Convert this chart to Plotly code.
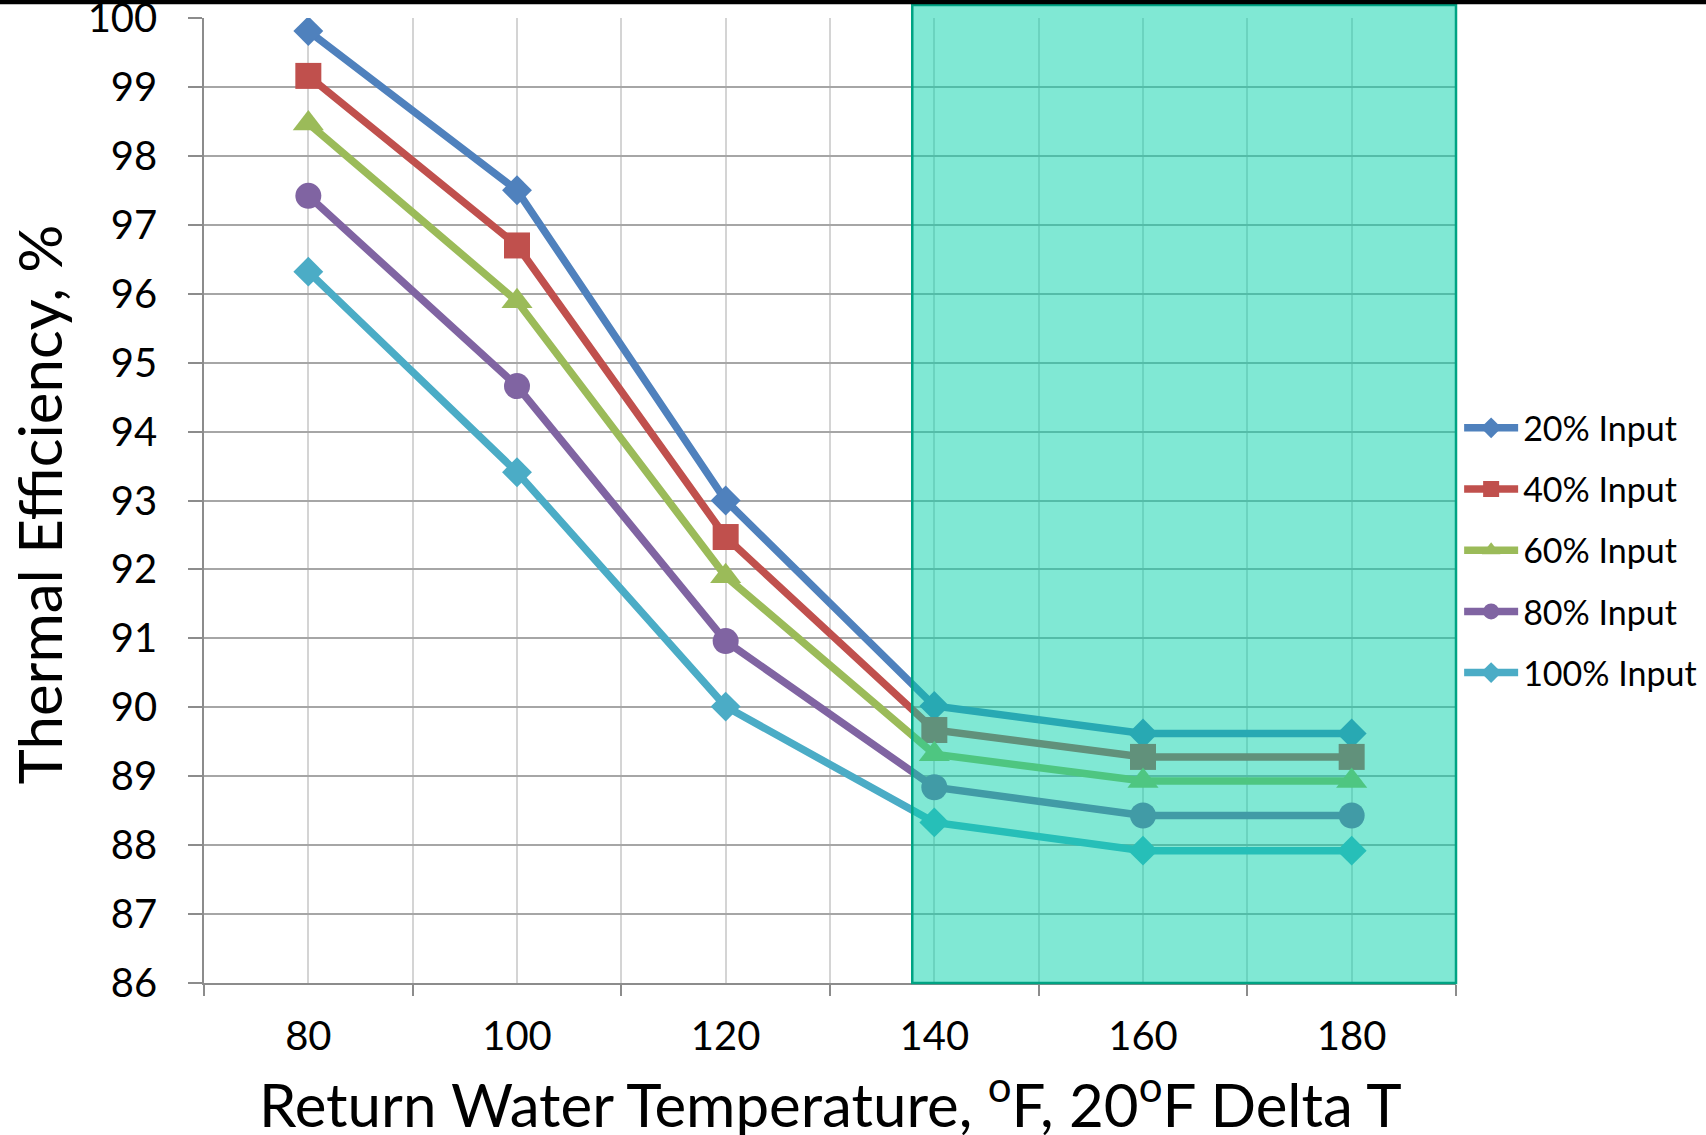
import plotly.graph_objects as go

temps = [80, 100, 120, 140, 160, 180]
boundaries = [70, 90, 110, 130, 150, 170, 190]
series_names = ["20% Input", "40% Input", "60% Input", "80% Input", "100% Input"]
eff_20 = [99.81, 97.50, 93.00, 90.02, 89.62, 89.62]
eff_40 = [99.16, 96.70, 92.47, 89.67, 89.28, 89.28]
eff_60 = [98.47, 95.89, 91.90, 89.32, 88.93, 88.93]
eff_80 = [97.42, 94.66, 90.96, 88.84, 88.43, 88.43]
eff_100 = [96.32, 93.41, 90.01, 88.33, 87.92, 87.92]
y_ticks = list(range(86, 101))

colors = ["#4F81BD", "#C0504D", "#9BBB59", "#8064A2", "#4BACC6"]
symbols = ["diamond", "square", "triangle-up", "circle", "diamond"]
sizes = [23, 26, 27, 26, 23]
FONT = "Lato"

fig = go.Figure()
for i, (name, vals) in enumerate(zip(series_names, [eff_20, eff_40, eff_60, eff_80, eff_100])):
    fig.add_trace(go.Scatter(
        x=temps, y=vals, name=name, mode="lines+markers",
        line=dict(color=colors[i], width=7.5),
        marker=dict(symbol=symbols[i], size=sizes[i], color=colors[i]),
        legendgroup=name,
    ))

# highlighted region (semi-transparent, above lines)
fig.add_shape(type="rect", xref="paper", yref="paper",
              x0=0.5657, x1=1.0, y0=0.0, y1=1.0136,
              fillcolor="rgba(1,209,169,0.5)",
              line=dict(color="#00A383", width=2.5), layer="above")
# black bar at very top
fig.add_shape(type="rect", xref="paper", yref="paper",
              x0=-0.2, x1=1.25, y0=1.0142, y1=1.05,
              fillcolor="black", line=dict(width=0), layer="above")

fig.update_layout(
    width=1706, height=1135,
    margin=dict(l=204, r=250, t=18, b=152, autoexpand=False),
    paper_bgcolor="white", plot_bgcolor="white",
    font=dict(family=FONT, color="black"),
    showlegend=True,
    legend=dict(x=1.0025, xanchor="left", y=0.4485, yanchor="middle",
                font=dict(size=34, family=FONT, color="black"),
                tracegroupgap=14, bgcolor="rgba(0,0,0,0)", borderwidth=0,
                itemwidth=54, itemsizing="trace"),
    xaxis=dict(range=[70, 190], tickmode="array", tickvals=temps,
               ticktext=[str(t) for t in temps], ticks="", automargin=False,
               showgrid=True, gridcolor="#D4D4D4", gridwidth=1.5,
               showline=True, linecolor="#8C8C8C", linewidth=1.5,
               tickfont=dict(size=40, family=FONT, color="black"),
               ticklabelstandoff=17, zeroline=False,
               minor=dict(tickmode="array", tickvals=boundaries, ticks="outside",
                          ticklen=11, tickcolor="#8C8C8C", tickwidth=1.5,
                          showgrid=True, gridcolor="#D4D4D4", gridwidth=1.5)),
    yaxis=dict(range=[86, 100], tickmode="array", tickvals=y_ticks, automargin=False,
               ticks="outside", ticklen=14, tickcolor="#8C8C8C", tickwidth=1.5,
               showgrid=True, gridcolor="#A6A6A6", gridwidth=1.5,
               showline=True, linecolor="#8C8C8C", linewidth=1.5,
               tickfont=dict(size=40, family=FONT, color="black"),
               ticklabelstandoff=23, ticklabeloverflow="allow", zeroline=False),
    annotations=[
        dict(text="Return Water Temperature, <sup>o</sup>F, 20<sup>o</sup>F Delta T",
             xref="paper", yref="paper", x=0.5, y=-0.165, xanchor="center", yanchor="bottom",
             showarrow=False, font=dict(size=60, family=FONT, color="black")),
        dict(text="Thermal Efficiency, %", xref="paper", yref="paper",
             x=-0.132, y=0.4956, xanchor="center", yanchor="middle", textangle=-90,
             showarrow=False, font=dict(size=60, family=FONT, color="black")),
    ],
)

fig.write_html("out.html")
